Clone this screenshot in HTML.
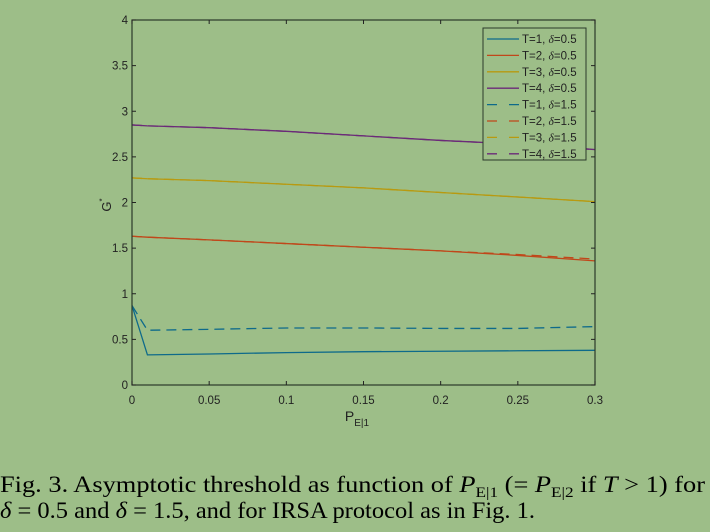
<!DOCTYPE html>
<html><head><meta charset="utf-8"><style>
html,body{margin:0;padding:0;background:#9dbe88;}
svg{display:block}
</style></head><body>
<svg id="chart" width="710" height="532" viewBox="0 0 710 532" xmlns="http://www.w3.org/2000/svg" font-family="Liberation Sans, sans-serif">
<rect x="0" y="0" width="710" height="532" fill="#9dbe88"/>
<g id="plot"></g>
<text x="0" y="492" font-family="Liberation Serif, serif" font-size="23" textLength="705" lengthAdjust="spacingAndGlyphs">Fig. 3.   Asymptotic threshold as function of <tspan font-style="italic">P</tspan><tspan font-size="15" dy="5">E|1</tspan><tspan dy="-5"> (= </tspan><tspan font-style="italic">P</tspan><tspan font-size="15" dy="5">E|2</tspan><tspan dy="-5"> if </tspan><tspan font-style="italic">T</tspan> &gt; 1) for</text>
<text x="0" y="518" font-family="Liberation Serif, serif" font-size="23" textLength="535" lengthAdjust="spacingAndGlyphs"><tspan font-style="italic">δ</tspan> = 0.5 and <tspan font-style="italic">δ</tspan> = 1.5, and for IRSA protocol as in Fig. 1.</text>
</svg>
<script>
const xValues = [0, 0.01, 0.05, 0.1, 0.15, 0.2, 0.25, 0.3];
const t1d05 = [0.87, 0.33, 0.34, 0.355, 0.365, 0.37, 0.375, 0.38];
const t2d05 = [1.63, 1.62, 1.59, 1.55, 1.51, 1.47, 1.42, 1.36];
const t3d05 = [2.27, 2.26, 2.24, 2.2, 2.16, 2.11, 2.06, 2.01];
const t4d05 = [2.85, 2.84, 2.82, 2.78, 2.73, 2.68, 2.64, 2.58];
const t1d15 = [0.87, 0.6, 0.61, 0.625, 0.625, 0.62, 0.62, 0.64];
const t2d15 = [1.63, 1.62, 1.59, 1.55, 1.51, 1.47, 1.43, 1.38];
const t3d15 = [2.27, 2.26, 2.24, 2.2, 2.16, 2.11, 2.06, 2.01];
const t4d15 = [2.85, 2.84, 2.82, 2.78, 2.73, 2.68, 2.64, 2.58];
const xTicks = [0, 0.05, 0.1, 0.15, 0.2, 0.25, 0.3];
const xTickLabels = ["0","0.05","0.1","0.15","0.2","0.25","0.3"];
const yTicks = [0,0.5,1,1.5,2,2.5,3,3.5,4];
const yTickLabels = ["0","0.5","1","1.5","2","2.5","3","3.5","4"];
const legendLabels = ["T=1, ","T=2, ","T=3, ","T=4, ","T=1, ","T=2, ","T=3, ","T=4, "];
const legendDeltas = ["0.5","0.5","0.5","0.5","1.5","1.5","1.5","1.5"];

const L=132,R=595,T=20,B=385;
const sx=v=>L+(v-0)/(0.3)*(R-L);
const sy=v=>B-(v/4)*(B-T);
const NS="http://www.w3.org/2000/svg";
const g=document.getElementById('plot');
function mk(tag,attrs){const e=document.createElementNS(NS,tag);for(const k in attrs)e.setAttribute(k,attrs[k]);g.appendChild(e);return e;}
const colors=["#0e6a8a","#c0471a","#b89a10","#6b2a78"];
const series=[
 {d:t1d05,c:colors[0],dash:null,n:"t1-d05"},{d:t2d05,c:colors[1],dash:null,n:"t2-d05"},
 {d:t3d05,c:colors[2],dash:null,n:"t3-d05"},{d:t4d05,c:colors[3],dash:null,n:"t4-d05"},
 {d:t1d15,c:colors[0],dash:"10,6",n:"t1-d15"},{d:t2d15,c:colors[1],dash:"10,6",n:"t2-d15"},
 {d:t3d15,c:colors[2],dash:"10,6",n:"t3-d15"},{d:t4d15,c:colors[3],dash:"10,6",n:"t4-d15"}];
series.forEach(s=>{
 const p=mk('polyline',{points:xValues.map((x,i)=>sx(x)+','+sy(s.d[i])).join(' '),fill:'none',stroke:s.c,'stroke-width':1.3});
 if(s.dash)p.setAttribute('stroke-dasharray',s.dash);
 
 
});
const box=mk('rect',{x:L,y:T,width:R-L,height:B-T,fill:'none',stroke:'#2a3a2a','stroke-width':1.2});


xTicks.forEach((v,i)=>{
 const x=sx(v);
 mk('line',{x1:x,y1:B,x2:x,y2:B-4,stroke:'#222'});
 mk('line',{x1:x,y1:T,x2:x,y2:T+4,stroke:'#222'});
 const t=mk('text',{x:x,y:B+19,'font-size':11.5,'text-anchor':'middle',fill:'#222'});
 t.textContent=xTickLabels[i];
 
 
});
yTicks.forEach((v,i)=>{
 const y=sy(v);
 mk('line',{x1:L,y1:y,x2:L+4,y2:y,stroke:'#222'});
 mk('line',{x1:R,y1:y,x2:R-4,y2:y,stroke:'#222'});
 const t=mk('text',{x:L-4,y:y+4,'font-size':11.5,'text-anchor':'end',fill:'#222'});
 t.textContent=yTickLabels[i];
 
 
});
const xt=mk('text',{x:357,y:421,'font-size':14,'text-anchor':'middle',fill:'#222'});
xt.innerHTML='P<tspan font-size="10" dy="5">E|1</tspan>';


const yt=mk('text',{x:0,y:0,'font-size':13,fill:'#222',transform:'translate(111,205) rotate(-90)','text-anchor':'middle'});
yt.innerHTML='G<tspan font-size="8" dy="-6">*</tspan>';


const lb=mk('rect',{x:483,y:28,width:103,height:132,fill:'#9dbe88',stroke:'#2a3a2a','stroke-width':1});


series.forEach((s,i)=>{
 const y=39+i*16.4;
 const l=mk('line',{x1:487,y1:y,x2:519,y2:y,stroke:s.c,'stroke-width':1.3});
 if(s.dash)l.setAttribute('stroke-dasharray','10,12');
 const t=mk('text',{x:522,y:y+4,'font-size':11.5,fill:'#222'});
 t.innerHTML=legendLabels[i]+'<tspan font-family="Liberation Serif, serif" font-style="italic">δ</tspan>='+legendDeltas[i];
 
 
});
</script>
</body></html>
